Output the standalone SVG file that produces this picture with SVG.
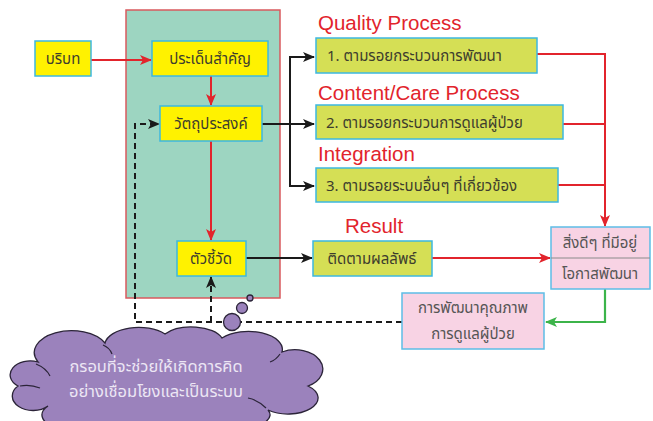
<svg xmlns="http://www.w3.org/2000/svg" width="653" height="421" viewBox="0 0 653 421">
  <style>
    .thai { font-family: "Noto Sans Thai", "Noto Sans", "DejaVu Sans", sans-serif; font-size: 15px; fill: #3d3d2e; }
    .lbl { font-family: "Liberation Sans", Arial, sans-serif; font-size: 20.5px; fill: #e2242c; }
    .yel { fill: #fff200; stroke: #3cb8e0; stroke-width: 1.5; }
    .olv { fill: #d5df55; stroke: #3cb8e0; stroke-width: 1.5; }
    .pnk { fill: #f8d3e4; stroke: #5dbde6; stroke-width: 1.5; }
    .red { stroke: #e2242c; stroke-width: 2; fill: none; }
    .blk { stroke: #1a1a1a; stroke-width: 2; fill: none; }
    .grn { stroke: #3cb44a; stroke-width: 2.2; fill: none; }
    .dash { stroke: #1a1a1a; stroke-width: 2; fill: none; stroke-dasharray: 6 4; }
    .fold { fill: none; stroke: #2b2438; stroke-width: 1.2; }
  </style>
  <defs>
    <marker id="ar-red" viewBox="0 0 12 10" refX="11" refY="5" markerWidth="12" markerHeight="10" markerUnits="userSpaceOnUse" orient="auto">
      <path d="M0,0 L12,5 L0,10 L3,5 z" fill="#e2242c"/>
    </marker>
    <marker id="ar-blk" viewBox="0 0 12 10" refX="11" refY="5" markerWidth="12" markerHeight="10" markerUnits="userSpaceOnUse" orient="auto">
      <path d="M0,0 L12,5 L0,10 L3,5 z" fill="#1a1a1a"/>
    </marker>
    <marker id="ar-grn" viewBox="0 0 12 10" refX="11" refY="5" markerWidth="12" markerHeight="10" markerUnits="userSpaceOnUse" orient="auto">
      <path d="M0,0 L12,5 L0,10 L3,5 z" fill="#3cb44a"/>
    </marker>
  </defs>

  <!-- framework panel -->
  <rect id="panel" x="126" y="10" width="154" height="288" fill="#9dd5c1" stroke="#d9595e" stroke-width="1.5"/>

  <!-- category labels -->
  <g id="labels">
    <text class="lbl" x="318" y="30">Quality Process</text>
    <text class="lbl" x="318" y="100">Content/Care Process</text>
    <text class="lbl" x="318" y="161">Integration</text>
    <text class="lbl" x="345" y="233">Result</text>
  </g>

  <!-- connectors -->
  <g id="connectors">
    <line class="red" x1="91" y1="60" x2="151" y2="60" marker-end="url(#ar-red)"/>
    <line class="red" x1="211" y1="76" x2="211" y2="105" marker-end="url(#ar-red)"/>
    <line class="red" x1="211" y1="141" x2="211" y2="240" marker-end="url(#ar-red)"/>
    <line class="blk" x1="262" y1="124" x2="314" y2="124" marker-end="url(#ar-blk)"/>
    <path class="blk" d="M290,57 V186 H314" marker-end="url(#ar-blk)"/>
    <line class="blk" x1="289" y1="57" x2="314" y2="57" marker-end="url(#ar-blk)"/>
    <line class="blk" x1="246" y1="258" x2="312" y2="258" marker-end="url(#ar-blk)"/>
    <path class="red" d="M537,54 H605 V226" marker-end="url(#ar-red)"/>
    <line class="red" x1="563" y1="124" x2="605" y2="124"/>
    <line class="red" x1="558" y1="185" x2="605" y2="185"/>
    <line class="red" x1="432" y1="258" x2="550" y2="258" marker-end="url(#ar-red)"/>
    <path class="grn" d="M605,289 V322 H546" marker-end="url(#ar-grn)"/>
    <path class="dash" d="M402,322 H135 V124 H159" marker-end="url(#ar-blk)"/>
    <path class="dash" d="M211,322 V277" marker-end="url(#ar-blk)"/>
  </g>

  <g id="n-context">
    <rect class="yel" x="35" y="41" width="56" height="35"/>
    <text class="thai" x="63" y="64" text-anchor="middle">บริบท</text>
  </g>
  <g id="n-issues">
    <rect class="yel" x="152" y="41" width="116" height="35"/>
    <text class="thai" x="210" y="64" text-anchor="middle">ประเด็นสำคัญ</text>
  </g>
  <g id="n-objectives">
    <rect class="yel" x="160" y="106" width="102" height="35"/>
    <text class="thai" x="211" y="129" text-anchor="middle">วัตถุประสงค์</text>
  </g>
  <g id="n-indicators">
    <rect class="yel" x="177" y="241" width="69" height="35"/>
    <text class="thai" x="211" y="264" text-anchor="middle">ตัวชี้วัด</text>
  </g>

  <g id="n-trace1">
    <rect class="olv" x="316" y="38" width="221" height="35"/>
    <text class="thai" x="327" y="61">1. ตามรอยกระบวนการพัฒนา</text>
  </g>
  <g id="n-trace2">
    <rect class="olv" x="316" y="105" width="247" height="34"/>
    <text class="thai" x="326" y="128">2. ตามรอยกระบวนการดูแลผู้ป่วย</text>
  </g>
  <g id="n-trace3">
    <rect class="olv" x="316" y="168" width="242" height="34"/>
    <text class="thai" x="326" y="191">3. ตามรอยระบบอื่นๆ ที่เกี่ยวข้อง</text>
  </g>
  <g id="n-outcome">
    <rect class="olv" x="313" y="241" width="119" height="35"/>
    <text class="thai" x="372" y="264" text-anchor="middle">ติดตามผลลัพธ์</text>
  </g>

  <g id="n-findings">
    <rect class="pnk" x="551" y="227" width="99" height="62"/>
    <line x1="551" y1="258" x2="650" y2="258" stroke="#8a8a8a" stroke-width="1"/>
    <text class="thai" x="600" y="248" text-anchor="middle" style="fill:#555">สิ่งดีๆ ที่มีอยู่</text>
    <text class="thai" x="600" y="279" text-anchor="middle" style="fill:#555">โอกาสพัฒนา</text>
  </g>
  <g id="n-improve">
    <rect class="pnk" x="402" y="293" width="142" height="56"/>
    <text class="thai" x="473" y="313" text-anchor="middle" style="fill:#555">การพัฒนาคุณภาพ</text>
    <text class="thai" x="473" y="339" text-anchor="middle" style="fill:#555">การดูแลผู้ป่วย</text>
  </g>

  <!-- thought cloud -->
  <g id="n-cloud">
    <g fill="#9b82bc" stroke="#2b2438" stroke-width="1.3">
      <circle cx="250" cy="298" r="3"/>
      <circle cx="242" cy="308" r="5.5"/>
      <circle cx="232" cy="322" r="8.5"/>
      <path d="M38,362 A34,20 0 0 1 105,343 A34,18 0 0 1 165,334 A32,16 0 0 1 222,338 A34,18 0 0 1 282,352 A26,18 0 0 1 308,386 A30,16 0 0 1 268,410 A44,16 0 0 1 190,424 A44,14 0 0 1 110,424 A36,16 0 0 1 48,406 A20,14 0 0 1 18,386 A20,14 0 0 1 38,362 Z"/>
    </g>
    <!-- inner lobe folds -->
    <path class="fold" d="M36,364 Q46,368 50,376"/>
    <path class="fold" d="M103,345 Q110,348 112,354"/>
    <path class="fold" d="M280,354 Q276,360 270,362"/>
    <path class="fold" d="M266,408 Q258,400 248,398"/>
    <path class="fold" d="M20,386 Q30,384 40,388"/>
    <text class="thai" x="156" y="372" text-anchor="middle" style="fill:#ece6f4;font-size:16.5px">กรอบที่จะช่วยให้เกิดการคิด</text>
    <text class="thai" x="156" y="397" text-anchor="middle" style="fill:#ece6f4;font-size:16.5px">อย่างเชื่อมโยงและเป็นระบบ</text>
  </g>
</svg>
